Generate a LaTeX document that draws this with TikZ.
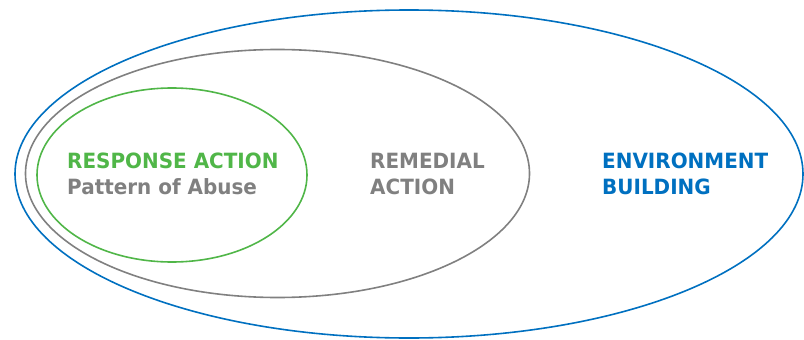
\documentclass[tikz,border=0pt]{standalone}
\usepackage{fontspec}
\newfontfamily\labelfont{DejaVu Sans}[FakeStretch=0.95]
\definecolor{respgreen}{RGB}{80,182,72}
\definecolor{remgray}{RGB}{128,128,128}
\definecolor{envblue}{RGB}{0,112,192}
\tikzstyle{ring} = [line width=1.6pt]
\tikzstyle{areatext} = [anchor=base west, inner sep=0pt, align=left, font=\labelfont\bfseries\fontsize{21}{26}\selectfont]

\begin{document}
\begin{tikzpicture}[x=1pt, y=-1pt]
  \useasboundingbox (0,0) rectangle (804,340);
  \draw[ring, envblue]  (409,174) ellipse [x radius=394, y radius=164];
  \draw[ring, remgray]  (277.5,173.5) ellipse [x radius=252, y radius=124];
  \draw[ring, respgreen] (172,175) ellipse [x radius=135, y radius=87];

  % base anchor sits on the second line
  \node (response) [areatext, text=respgreen] at (67,194) {RESPONSE ACTION\\\textcolor{remgray}{Pattern of Abuse}};
  \node (remedial) [areatext, text=remgray] at (370,194) {REMEDIAL\\ACTION};
  \node (environment) [areatext, text=envblue] at (602,194) {ENVIRONMENT\\BUILDING};
\end{tikzpicture}
\end{document}
